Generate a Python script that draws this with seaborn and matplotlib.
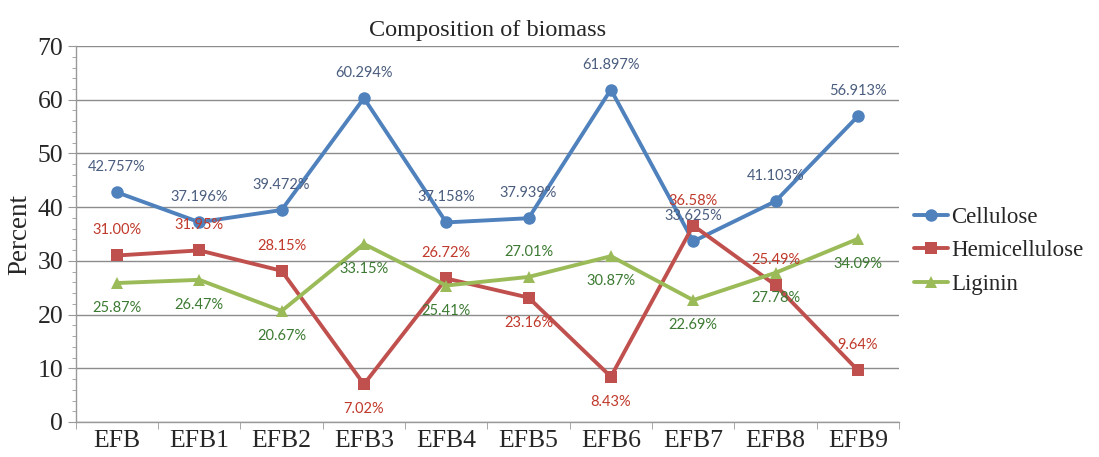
import matplotlib
matplotlib.use("Agg")
import matplotlib.pyplot as plt
import seaborn as sns
import pandas as pd
import numpy as np
from matplotlib.ticker import MultipleLocator, FixedLocator

categories = ["EFB", "EFB1", "EFB2", "EFB3", "EFB4", "EFB5", "EFB6", "EFB7", "EFB8", "EFB9"]
cellulose = [42.757, 37.196, 39.472, 60.294, 37.158, 37.939, 61.897, 33.625, 41.103, 56.913]
hemicellulose = [31.00, 31.95, 28.15, 7.02, 26.72, 23.16, 8.43, 36.58, 25.49, 9.64]
liginin = [25.87, 26.47, 20.67, 33.15, 25.41, 27.01, 30.87, 22.69, 27.78, 34.09]

cell_labels = ["42.757%", "37.196%", "39.472%", "60.294%", "37.158%", "37.939%", "61.897%", "33.625%", "41.103%", "56.913%"]
hemi_labels = ["31.00%", "31.95%", "28.15%", "7.02%", "26.72%", "23.16%", "8.43%", "36.58%", "25.49%", "9.64%"]
lig_labels = ["25.87%", "26.47%", "20.67%", "33.15%", "25.41%", "27.01%", "30.87%", "22.69%", "27.78%", "34.09%"]

# label placement: +1 above, -1 below
cell_pos = [1, 1, 1, 1, 1, 1, 1, 1, 1, 1]
hemi_pos = [1, 1, 1, -1, 1, -1, -1, 1, 1, 1]
lig_pos = [-1, -1, -1, -1, -1, 1, -1, -1, -1, -1]

series_names = ["Cellulose", "Hemicellulose", "Liginin"]
colors = {"Cellulose": "#4f81bd", "Hemicellulose": "#c0504d", "Liginin": "#9bbb59"}
label_colors = {"Cellulose": "#4a5d7e", "Hemicellulose": "#c0392b", "Liginin": "#3c7a32"}
markers = {"Cellulose": "o", "Hemicellulose": "s", "Liginin": "^"}

idx = list(range(len(categories)))
df = pd.DataFrame({
    "idx": idx * 3,
    "value": cellulose + hemicellulose + liginin,
    "series": [s for s in series_names for _ in categories],
})

sns.set_style("white")
plt.rcParams["font.family"] = ["Liberation Serif", "DejaVu Serif"]

fig = plt.figure(figsize=(10.99, 4.57), dpi=100)
ax = fig.add_axes([0.069, 0.0766, 0.749, 0.8227])

sns.lineplot(data=df, x="idx", y="value", hue="series", style="series",
             palette=colors, markers=markers, dashes=False, linewidth=2.8,
             markersize=9, markeredgewidth=0, ax=ax, legend=True, sort=False)

ax.set_xlim(-0.5, len(categories) - 0.5)
ax.set_ylim(0, 70)
ax.yaxis.set_major_locator(MultipleLocator(10))
ax.yaxis.set_minor_locator(MultipleLocator(2))
ax.xaxis.set_major_locator(FixedLocator(idx))
ax.set_xticklabels(categories)
ax.xaxis.set_minor_locator(FixedLocator(np.arange(-0.5, len(categories), 1.0)))
ax.tick_params(axis="x", which="major", length=0, labelsize=18.5, pad=6)
ax.tick_params(axis="x", which="minor", length=5, color="#999999", direction="out", bottom=True)
ax.tick_params(axis="y", which="major", length=6, color="#999999", labelsize=18.5, direction="out", left=True, pad=3)
ax.tick_params(axis="y", which="minor", length=3, color="#999999", direction="out", left=True)
ax.grid(axis="y", which="major", color="#8c8c8c", linewidth=1.0)
ax.set_axisbelow(True)
for side in ["top", "right"]:
    ax.spines[side].set_visible(False)
for side in ["left", "bottom"]:
    ax.spines[side].set_color("#999999")
    ax.spines[side].set_linewidth(1.0)

ax.set_xlabel("")
ax.set_ylabel("Percent", fontsize=19.5, labelpad=4)
ax.set_title("Composition of biomass", fontsize=17.5, pad=7)

def annotate(vals, labels, pos, name):
    for i, (v, lab, p) in enumerate(zip(vals, labels, pos)):
        ax.annotate(lab, (i, v), xytext=(0, 18 * p), textcoords="offset points",
                    ha="center", va="center", fontsize=10.5,
                    family=["Lato", "DejaVu Sans"], color=label_colors[name])

annotate(cellulose, cell_labels, cell_pos, "Cellulose")
annotate(hemicellulose, hemi_labels, hemi_pos, "Hemicellulose")
annotate(liginin, lig_labels, lig_pos, "Liginin")

handles, labels = ax.get_legend_handles_labels()
ax.legend(handles, labels, loc="center left", bbox_to_anchor=(1.018, 0.455),
          frameon=False, fontsize=16.5, handlelength=1.5, handletextpad=0.15,
          labelspacing=0.55, borderaxespad=0, borderpad=0)

fig.savefig("out.png", dpi=100)
